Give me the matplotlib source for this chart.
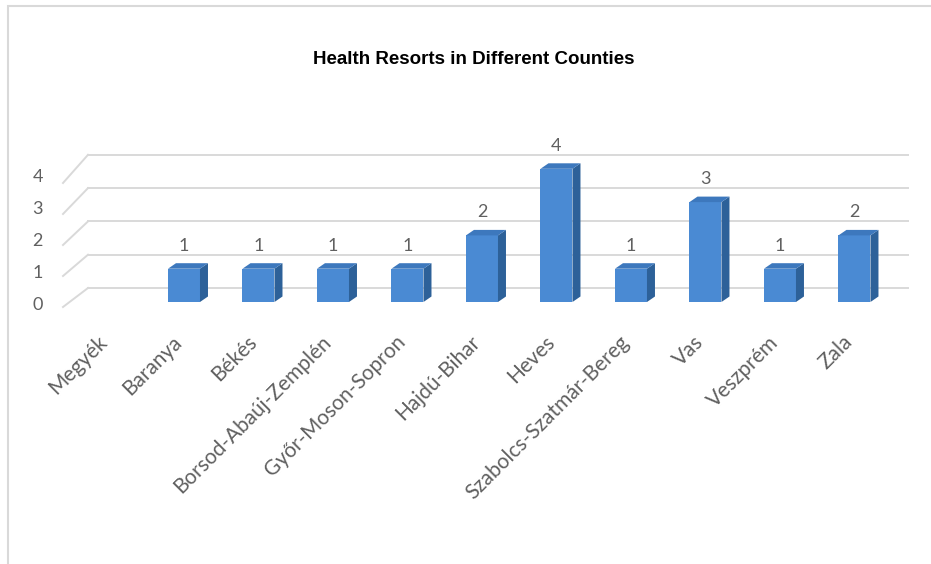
import matplotlib
matplotlib.use('Agg')
import matplotlib.pyplot as plt
from matplotlib.patches import Polygon, Rectangle

categories = ['Megyék', 'Baranya', 'Békés', 'Borsod-Abaúj-Zemplén', 'Győr-Moson-Sopron',
              'Hajdú-Bihar', 'Heves', 'Szabolcs-Szatmár-Bereg', 'Vas', 'Veszprém', 'Zala']
values = [None, 1, 1, 1, 1, 2, 4, 1, 3, 1, 2]
yticks = [0, 1, 2, 3, 4]
title = 'Health Resorts in Different Counties'

W, H = 931, 564
fig = plt.figure(figsize=(W / 100, H / 100), dpi=100)
fig.patch.set_facecolor('white')

# chart border (only left/top visible in the crop)
fig.patches.append(Rectangle((8 / W, -0.1), 1.2, (1 - 6 / H) + 0.1, transform=fig.transFigure,
                             fill=False, ec='#d9d9d9', lw=1.5))

ax = fig.add_axes([63 / W, (H - 302) / H, 820 / W, 133.2 / H])
xl, xr = -0.624, 10.383
ax.set_xlim(xl, xr)
ax.set_ylim(0, 4)
ax.set_axis_off()

PX = 820 / (xr - xl)     # pixels per x unit
PY = 133.2 / 4           # pixels per y unit

grid_c = '#d9d9d9'
txt_c = '#606060'
lab_font = 'Lato'

# back wall gridlines and floor/wall diagonals (front edge slightly compressed by perspective)
bdx, bdy = 25 / PX, 14 / PY
for v in yticks:
    fdy = -(5 + 2.3 * v) / PY
    ax.plot([xl + bdx, xr + bdx], [v + bdy, v + bdy], color=grid_c, lw=1.4, clip_on=False, zorder=1)
    ax.plot([xl, xl + bdx], [v + fdy, v + bdy], color=grid_c, lw=1.4, clip_on=False, zorder=1)
    ax.text(xl - 20 / PX, v - (3 + 1.3 * v) / PY, str(v), ha='right', va='center', fontsize=13,
            family=lab_font, color=txt_c)

# bars with fake 3D
front_c, side_c, top_c = '#4a8ad3', '#2d6199', '#3d78bd'
bw = 32 / PX
sx, sy = 8 / PX, 5.5 / PY
for i, v in enumerate(values):
    if v is None:
        continue
    ax.bar(i, v, width=bw, color=front_c, clip_on=False, zorder=3)
    ax.add_patch(Polygon([(i + bw / 2, 0), (i + bw / 2 + sx, sy), (i + bw / 2 + sx, v + sy), (i + bw / 2, v)],
                         closed=True, fc=side_c, ec='none', clip_on=False, zorder=3))
    ax.add_patch(Polygon([(i - bw / 2, v), (i + bw / 2, v), (i + bw / 2 + sx, v + sy), (i - bw / 2 + sx, v + sy)],
                         closed=True, fc=top_c, ec='none', clip_on=False, zorder=3))
    ax.text(i, v + 23 / PY, str(v), ha='center', va='center', fontsize=13, family=lab_font, color=txt_c)

# category labels
for i, c in enumerate(categories):
    ax.text(i - 5 / PX, -37 / PY, c, rotation=45, rotation_mode='anchor', ha='right', va='center',
            fontsize=15, family=lab_font, color=txt_c)

fig.text(474 / W, 1 - 59 / H, title, ha='center', va='center', fontsize=13.5, fontweight='bold',
         family='Liberation Sans', color='black')

fig.savefig('out.png', dpi=100)
